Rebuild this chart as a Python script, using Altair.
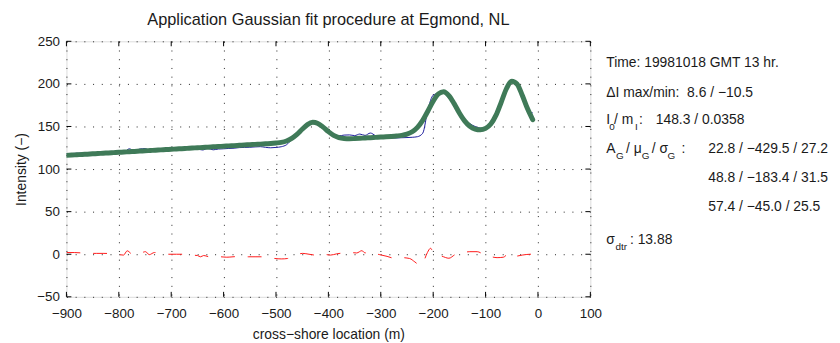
import altair as alt
import pandas as pd

# ---------------- data ----------------
x_ticks = [-900, -800, -700, -600, -500, -400, -300, -200, -100, 0, 100]
y_ticks = [-50, 0, 50, 100, 150, 200, 250]

# cross-shore sample positions (m) for measured intensity and Gaussian fit
x_samples = list(range(-900, 0, 10))

fit_values = [
    116.1, 116.4, 116.8, 117.2, 117.5, 117.9, 118.2, 118.6, 118.9, 119.3,
    119.7, 120.0, 120.4, 120.7, 121.1, 121.4, 121.8, 122.2, 122.5, 122.9,
    123.2, 123.6, 123.9, 124.3, 124.7, 125.0, 125.4, 125.7, 126.1, 126.5,
    126.8, 127.2, 127.5, 127.9, 128.3, 128.6, 129.0, 129.3, 129.7, 130.0,
    130.6, 131.4, 133.0, 136.0, 140.7, 146.7, 152.2, 154.9, 153.6, 149.3,
    143.9, 139.6, 137.0, 135.9, 135.6, 135.8, 136.1, 136.5, 136.8, 137.2,
    137.6, 137.9, 138.3, 138.8, 139.5, 141.0, 143.8, 149.0, 157.2, 168.2,
    179.7, 188.2, 190.7, 186.2, 176.8, 165.9, 156.6, 150.3, 147.0, 146.1,
    147.8, 152.9, 163.3, 178.7, 194.6, 203.2, 199.9, 186.7, 171.0, 158.0,
]

data_values = [
    117.8, 118.2, 118.6, 118.7, 118.5, 118.9, 119.2, 119.6, 119.9, 119.3,
    119.7, 120.0, 123.8, 121.0, 123.5, 124.0, 121.8, 122.6, 123.5, 122.9,
    123.2, 123.6, 123.9, 124.3, 123.8, 123.5, 122.4, 124.2, 122.6, 123.5,
    123.8, 124.2, 124.5, 125.2, 125.4, 125.6, 126.0, 126.3, 125.5, 125.0,
    125.4, 126.2, 128.5, 134.5, 140.0, 147.5, 152.5, 154.9, 152.6, 149.3,
    142.9, 139.6, 139.0, 139.9, 140.1, 139.3, 141.1, 139.5, 142.3, 139.2,
    137.1, 136.6, 136.5, 136.5, 136.8, 137.0, 137.3, 138.0, 142.0, 170.0,
    186.7, 188.8, 189.0, 183.0, 175.5, 166.5, 158.5, 153.3, 150.0, 148.0,
    147.8, 150.3, 160.3, 175.2, 194.6, 204.2, 197.9, 185.7, 168.0, 166.0,
]

res_x = [
    -900, -885, -870, -855, -843, -830, -818, -805, -791, -784,
    -774, -760, -749, -742, -732, -718, -705, -690, -676, -662,
    -650, -644, -638, -627, -615, -606, -594, -582, -567, -553,
    -540, -528, -515, -502, -490, -478, -463, -449, -437, -425,
    -410, -396, -384, -371, -358, -346, -336, -330, -324, -313,
    -302, -288, -274, -260, -245, -235, -225, -218, -211, -205,
    -198, -185, -170, -158, -145, -130, -116, -104, -91, -78,
    -66, -55, -44, -30, -15, -10,
]
res_values = [
    2, 2, 1.5, 1, 1, 1, 0.8, 0, -1, 4,
    0, 1, 3, -0.5, 2, 1, 0, 0, 0, -1,
    -1.5, -3, -1.5, -3, -3, -3, -3.5, -3, -2.5, -3,
    -3, -3, -4, -5, -5.5, -5, -1, 1, 0, -1,
    0, -1, 0.5, 1.5, 2, 1.5, 4.2, 1.5, 3, 1,
    -0.5, -2.5, -4.7, -4, -5, -9, -13, -8, 2, 7,
    -0.5, -2, -4.7, -0.4, 1.6, 3, 3, 0, -2.6, -4,
    -3.5, 1.2, -2.4, -1, 0, 0,
]

title_text = "Application Gaussian fit procedure at Egmond, NL"
x_title = "cross\u2212shore location (m)"
y_title = "Intensity (\u2212)"

# ---------------- layout / style ----------------
W, H = 529, 258
FONT = "Liberation Sans"
TXT = "#1a1a1a"

fit_df = pd.DataFrame({"x": x_samples, "y": fit_values})
data_df = pd.DataFrame({"x": x_samples, "y": data_values})
res_df = pd.DataFrame({"x": res_x, "y": res_values})
xt_df = pd.DataFrame({"v": x_ticks})
yt_df = pd.DataFrame({"v": y_ticks})

xscale = alt.Scale(domain=[-900, 100], nice=False, zero=False)
yscale = alt.Scale(domain=[-50, 250], nice=False, zero=False)

xaxis = alt.Axis(
    values=x_ticks, title=x_title, grid=True, gridDash=[1, 7.8], gridColor="#222",
    gridOpacity=1, gridWidth=1, ticks=False, tickSize=0, domain=False,
    labelFont=FONT, labelFontSize=13.5, labelColor=TXT, labelPadding=16.5,
    labelBaseline="middle", labelFlush=False, labelOverlap=False,
    titleFont=FONT, titleFontSize=14, titleFontWeight="normal", titleColor=TXT,
    titleX=W / 2, titleY=38.5, titleBaseline="middle", titleAlign="center",
)
yaxis = alt.Axis(
    values=y_ticks, title=y_title, grid=True, gridDash=[1, 7.8], gridColor="#222",
    gridOpacity=1, gridWidth=1, ticks=False, tickSize=0, domain=False,
    labelFont=FONT, labelFontSize=13.5, labelColor=TXT, labelPadding=7,
    labelFlush=False, labelOverlap=False,
    titleFont=FONT, titleFontSize=14, titleFontWeight="normal", titleColor=TXT,
    titleX=-45, titleY=H / 2, titleBaseline="middle", titleAlign="center", titleAngle=270,
)

X = alt.X("x:Q", scale=xscale, axis=xaxis)
Y = alt.Y("y:Q", scale=yscale, axis=yaxis)

data_line = alt.Chart(data_df).mark_line(
    color="#1c1c9c", strokeWidth=1, interpolate="monotone", clip=True
).encode(x=X, y=Y)

fit_line = alt.Chart(fit_df).mark_line(
    color="#3f7a58", strokeWidth=5, interpolate="monotone", clip=True,
    strokeCap="round", strokeJoin="round"
).encode(x=X, y=Y)

res_line = alt.Chart(res_df).mark_line(
    color="#ff1a1a", strokeWidth=1, strokeDash=[14, 13], interpolate="monotone", clip=True
).encode(x=X, y=Y)

XT = alt.X("v:Q", scale=xscale, axis=xaxis)
YT = alt.Y("v:Q", scale=yscale, axis=yaxis)
tick_bottom = alt.Chart(xt_df).mark_rule(color="black", strokeWidth=1).encode(
    x=XT, y=alt.value(H), y2=alt.value(H - 5))
tick_top = alt.Chart(xt_df).mark_rule(color="black", strokeWidth=1).encode(
    x=XT, y=alt.value(0), y2=alt.value(5))
tick_left = alt.Chart(yt_df).mark_rule(color="black", strokeWidth=1).encode(
    y=YT, x=alt.value(0), x2=alt.value(5))
tick_right = alt.Chart(yt_df).mark_rule(color="black", strokeWidth=1).encode(
    y=YT, x=alt.value(W), x2=alt.value(W - 5))

# annotation pieces: (text, x, y, font size) in plot-area pixels
NB = "\u00a0"
X0 = 545          # left edge of the annotation block
XV = X0 + 103     # left edge of the Gaussian parameter column
pieces = [
    ("Time: 19981018 GMT 13 hr.", X0, 22, 14),
    ("\u0394I max/min:" + NB + " 8.6 / \u221210.5", X0, 52, 14),
    ("I", X0, 79, 14),
    ("0", X0 + 3, 86.5, 10),
    ("/ m", X0 + 8, 79, 14),
    ("I", X0 + 29, 86.5, 10),
    (":", X0 + 33, 79, 14),
    ("148.3 / 0.0358", X0 + 50, 79, 14),
    ("A", X0, 109, 14),
    ("G", X0 + 10, 115.5, 10),
    ("/ \u03bc", X0 + 20, 109, 14),
    ("G", X0 + 36, 115.5, 10),
    ("/ \u03c3", X0 + 46, 109, 14),
    ("G", X0 + 62, 115.5, 10),
    (":", X0 + 76, 109, 14),
    ("22.8 / \u2212429.5 / 27.2", XV, 109, 14),
    ("48.8 / \u2212183.4 / 31.5", XV, 138, 14),
    ("57.4 / \u221245.0 / 25.5", XV, 167, 14),
    ("\u03c3", X0, 201, 14),
    ("dtr", X0 + 9.5, 207.5, 10),
    (": 13.88", X0 + 24, 201, 14),
]
one = pd.DataFrame({"a": [0]})
texts = [
    alt.Chart(one).mark_text(
        text=t, align="left", baseline="middle", font=FONT, fontSize=s, color=TXT
    ).encode(x=alt.value(px), y=alt.value(py))
    for (t, px, py, s) in pieces
]

chart = alt.layer(
    data_line, fit_line, res_line, tick_bottom, tick_top, tick_left, tick_right, *texts
).properties(
    width=W, height=H,
    autosize=alt.AutoSizeParams(type="none"),
    padding={"left": 59, "top": 32, "right": 244, "bottom": 45},
    title=alt.TitleParams(
        text=title_text, font=FONT, fontSize=16.5, fontWeight="normal", color=TXT,
        anchor="middle", frame="group", offset=6,
    ),
).configure_view(stroke="#000", strokeWidth=1.3).configure(background="white")

chart.save("out.html", embed_options={"renderer": "svg", "actions": False})
